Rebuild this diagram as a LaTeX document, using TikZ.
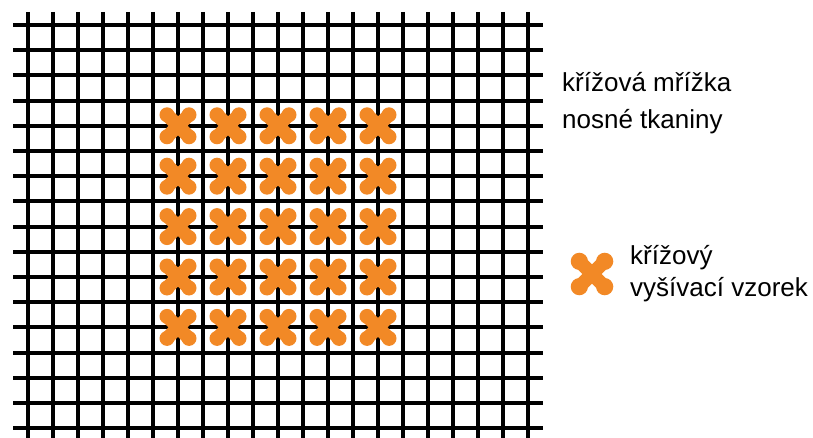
\documentclass[tikz,border=0pt]{standalone}
\usepackage{fontspec}
\setmainfont{Liberation Sans}
\usepackage{xcolor}
\usetikzlibrary{positioning}
\definecolor{oranzova}{RGB}{242,137,38}
\tikzset{
  nit/.style={line width=4pt, black},
  steh/.style={line width=13.5pt, oranzova, line cap=round},
  popis/.style={anchor=base west, inner sep=0pt, font=\fontsize{26}{30}\selectfont},
  krizek/.pic={
    \draw[steh] (-11,-11) -- (11,11) (-11,11) -- (11,-11);
    \foreach \sx/\sy in {-1/-1,1/1,-1/1,1/-1}
      \fill[oranzova] (11*\sx,11*\sy) circle[radius=7.5];
  },
}

\begin{document}
\begin{tikzpicture}[x=1pt, y=-1pt]
  \useasboundingbox (0,0) rectangle (813,438);
  % svisle nite
  \foreach \i in {0,...,20}
    \draw[nit] ({28+25*\i},12) -- ({28+25*\i},438);
  % vodorovne nite
  \foreach \j in {0,...,16}
    \draw[nit] (13,{25+25.2*\j}) -- (543,{25+25.2*\j});
  % vysity vzorek
  \foreach \i in {6,8,...,14}
    \foreach \j in {4,6,...,12}
      \pic at ({28+25*\i},{25+25.2*\j}) {krizek};

  % legenda
  \node[popis] (mrizka1) at (562,92) {křížová mřížka};
  \node[popis] (mrizka2) at (562,129) {nosné tkaniny};
  \pic[scale=1.15] at (592,274) {krizek};
  \node[popis] (vzorek1) at (630,265) {křížový};
  \node[popis] (vzorek2) at (630,296) {vyšívací vzorek};
\end{tikzpicture}
\end{document}
